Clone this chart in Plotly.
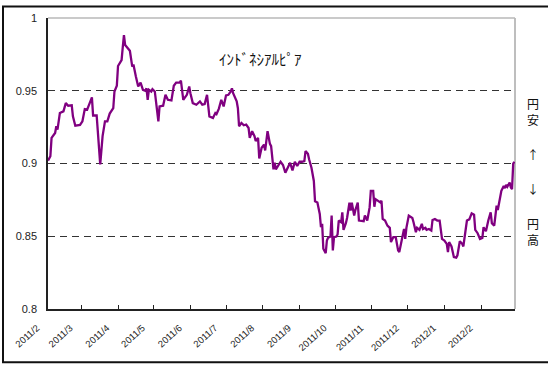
import plotly.graph_objects as go

dates = [
"2011-02-01","2011-02-03","2011-02-04","2011-02-07","2011-02-08","2011-02-09","2011-02-11","2011-02-14","2011-02-16","2011-02-18",
"2011-02-21","2011-02-22","2011-02-24","2011-02-28","2011-03-02","2011-03-04","2011-03-06","2011-03-08","2011-03-10","2011-03-11",
"2011-03-14","2011-03-17","2011-03-19","2011-03-21","2011-03-23","2011-03-25","2011-03-28","2011-03-29","2011-03-31","2011-04-01",
"2011-04-04","2011-04-05","2011-04-06","2011-04-07","2011-04-09","2011-04-11","2011-04-13","2011-04-14","2011-04-16","2011-04-18",
"2011-04-20","2011-04-22","2011-04-24","2011-04-25","2011-04-26","2011-04-27","2011-04-29","2011-04-30","2011-05-02","2011-05-05",
"2011-05-06","2011-05-09","2011-05-11","2011-05-13","2011-05-16","2011-05-18","2011-05-20","2011-05-23","2011-05-24","2011-05-26",
"2011-05-29","2011-05-31","2011-06-01","2011-06-03","2011-06-06","2011-06-09","2011-06-11","2011-06-13","2011-06-15","2011-06-17",
"2011-06-20","2011-06-22","2011-06-23","2011-06-25","2011-06-27","2011-06-29","2011-07-01","2011-07-03","2011-07-05","2011-07-06",
"2011-07-07","2011-07-10","2011-07-11","2011-07-12","2011-07-14","2011-07-16","2011-07-18","2011-07-20","2011-07-21","2011-07-23",
"2011-07-25","2011-07-26","2011-07-28","2011-07-29","2011-07-31","2011-08-02","2011-08-03","2011-08-05","2011-08-07","2011-08-08",
"2011-08-10","2011-08-11","2011-08-12","2011-08-14","2011-08-16","2011-08-18","2011-08-20","2011-08-22","2011-08-24","2011-08-26",
"2011-08-28","2011-08-30","2011-09-01","2011-09-03","2011-09-05","2011-09-06","2011-09-08","2011-09-09","2011-09-11","2011-09-13",
"2011-09-14","2011-09-16","2011-09-18","2011-09-19","2011-09-20","2011-09-21","2011-09-23","2011-09-24","2011-09-25","2011-09-27",
"2011-09-28","2011-09-29","2011-09-30","2011-10-02","2011-10-03","2011-10-04","2011-10-06","2011-10-07","2011-10-08","2011-10-10",
"2011-10-11","2011-10-13","2011-10-14","2011-10-15","2011-10-17","2011-10-18","2011-10-20","2011-10-21","2011-10-23","2011-10-25",
"2011-10-26","2011-10-28","2011-10-30","2011-10-31","2011-11-02","2011-11-03","2011-11-04","2011-11-06","2011-11-08","2011-11-09",
"2011-11-10","2011-11-12","2011-11-14","2011-11-16","2011-11-17","2011-11-19","2011-11-21","2011-11-23","2011-11-24","2011-11-26",
"2011-11-27","2011-11-28","2011-11-29","2011-11-30","2011-12-02","2011-12-05","2011-12-06","2011-12-08","2011-12-09","2011-12-11",
"2011-12-13","2011-12-14","2011-12-16","2011-12-17","2011-12-19","2011-12-21","2011-12-22","2011-12-24","2011-12-26","2011-12-28",
"2011-12-30","2012-01-01","2012-01-03","2012-01-04","2012-01-05","2012-01-07","2012-01-09","2012-01-11","2012-01-12","2012-01-14",
"2012-01-16","2012-01-17","2012-01-19","2012-01-20","2012-01-22","2012-01-24","2012-01-26","2012-01-27","2012-01-29","2012-01-31",
"2012-02-02","2012-02-03","2012-02-05","2012-02-06","2012-02-07","2012-02-09","2012-02-10","2012-02-12","2012-02-14","2012-02-15",
"2012-02-17","2012-02-18","2012-02-20","2012-02-21","2012-02-22","2012-02-23","2012-02-25","2012-02-26","2012-02-27","2012-02-28",
"2012-02-29"]

idr_values = [
0.902,0.905,0.9176,0.921,0.9256,0.9233,0.9347,0.9358,0.9415,0.9397,
0.940,0.9324,0.926,0.9265,0.929,0.9374,0.937,0.9415,0.9454,0.933,
0.933,0.8994,0.9188,0.929,0.929,0.9343,0.938,0.9495,0.9534,0.967,
0.9711,0.980,0.9882,0.9814,0.979,0.9775,0.9666,0.968,0.960,0.9529,
0.9556,0.9506,0.950,0.9517,0.9438,0.9506,0.9495,0.9511,0.9495,0.929,
0.9392,0.9397,0.9472,0.9438,0.9433,0.9534,0.9556,0.9556,0.957,0.9438,
0.9472,0.9529,0.9483,0.9415,0.9404,0.9427,0.9404,0.9408,0.9472,0.9324,
0.9313,0.9347,0.934,0.9377,0.9438,0.9392,0.9468,0.9472,0.9495,0.9517,
0.9483,0.9427,0.938,0.9256,0.9279,0.9263,0.9268,0.9244,0.9176,0.9222,
0.9188,0.9154,0.9176,0.9035,0.9108,0.913,0.909,0.9222,0.9135,0.9119,
0.896,0.9005,0.896,0.8983,0.9012,0.899,0.8937,0.8971,0.9005,0.8953,
0.9012,0.8983,0.9012,0.9012,0.9017,0.9085,0.9067,0.9029,0.8971,0.888,
0.874,0.8732,0.8653,0.8562,0.8585,0.8414,0.8384,0.8471,0.8489,0.8498,
0.8642,0.8403,0.8494,0.8498,0.8512,0.8608,0.8596,0.8664,0.8544,0.859,
0.8626,0.873,0.8676,0.873,0.8642,0.868,0.8732,0.8608,0.8604,0.8604,
0.8642,0.8608,0.8698,0.8812,0.8812,0.8703,0.8755,0.8744,0.8732,0.8744,
0.8619,0.8608,0.8573,0.8558,0.846,0.8494,0.8494,0.8403,0.8391,0.8471,
0.8505,0.855,0.8482,0.8558,0.8642,0.8626,0.8596,0.8528,0.8558,0.8544,
0.8585,0.855,0.8558,0.8544,0.855,0.8539,0.8612,0.8619,0.8608,0.8608,
0.8482,0.8471,0.8448,0.8391,0.846,0.843,0.8357,0.8353,0.8369,0.8466,
0.8448,0.843,0.855,0.8608,0.8616,0.8657,0.8648,0.8544,0.8521,0.8482,
0.8489,0.8562,0.8535,0.8585,0.8608,0.8664,0.859,0.8573,0.871,0.868,
0.8778,0.8812,0.8846,0.883,0.8853,0.884,0.8869,0.8835,0.8824,0.8999,
0.9012]

tick_dates = ["2011-02-01","2011-03-01","2011-04-01","2011-05-01","2011-06-01","2011-07-01",
              "2011-08-01","2011-09-01","2011-10-01","2011-11-01","2011-12-01","2012-01-01","2012-02-01"]
tick_labels = ["2011/2","2011/3","2011/4","2011/5","2011/6","2011/7",
               "2011/8","2011/9","2011/10","2011/11","2011/12","2012/1","2012/2"]
y_ticks = [0.8, 0.85, 0.9, 0.95, 1.0]
y_tick_labels = ["0.8", "0.85", "0.9", "0.95", "1"]

series_name = "ｲﾝﾄﾞﾈｼｱﾙﾋﾟｱ"
side_texts = ["円<br>安", "↑", "↓", "円<br>高"]
side_px = [110.5, 153, 188, 231]   # vertical pixel centres of the side note

W, H = 548, 368
ml, mr, mt, mb = 48, 33, 16, 59
pw = W - ml - mr
ph = H - mt - mb

fig = go.Figure()
fig.add_trace(go.Scatter(x=dates, y=idr_values, mode="lines",
                         line=dict(color="#800080", width=2.3), showlegend=False,
                         hoverinfo="skip"))

fig.update_layout(
    width=W, height=H,
    margin=dict(l=ml, r=mr, t=mt, b=mb),
    paper_bgcolor="white", plot_bgcolor="white",
    font=dict(family="Liberation Sans, Arial, sans-serif", color="#222"),
    xaxis=dict(type="date", range=["2011-02-01", "2012-02-29 12:00"],
               tickvals=tick_dates, ticktext=tick_labels, tickangle=-42,
               ticks="inside", ticklen=4, tickcolor="#222", tickwidth=1,
               showgrid=False, zeroline=False,
               showline=True, linecolor="#222", linewidth=1.5,
               tickfont=dict(size=9.5, color="#222", family="Liberation Sans, Arial"),
               ticklabelstandoff=8, ticklabelshift=-11),
    yaxis=dict(range=[0.8, 1.0], tickvals=y_ticks, ticktext=y_tick_labels,
               ticks="", showgrid=True, gridcolor="#333", gridwidth=1,
               griddash="7px,5px", zeroline=False,
               showline=True, linecolor="#222", linewidth=1.5,
               tickfont=dict(size=11, color="#222"), ticklabelstandoff=7),
)

# grey right and top plot-area edges
fig.add_shape(type="line", xref="paper", yref="paper", x0=1, x1=1, y0=0, y1=1,
              line=dict(color="#a8a8a8", width=1.5), layer="below")
fig.add_shape(type="line", xref="paper", yref="paper", x0=0, x1=1, y0=1, y1=1,
              line=dict(color="#b8b8b8", width=1.5), layer="below")

# outer chart border
fx0 = (3 - ml) / pw
fx1 = (W + 2 - ml) / pw
fy1 = 1 + (mt - 4.5) / ph
fy0 = -(362.5 - (H - mb)) / ph
fig.add_shape(type="rect", xref="paper", yref="paper", x0=fx0, x1=fx1, y0=fy0, y1=fy1,
              line=dict(color="#111", width=2), fillcolor="rgba(0,0,0,0)")

fig.add_annotation(text=series_name, xref="paper", yref="paper",
                   x=(260 - ml) / pw, y=1 - (57 - mt) / ph, showarrow=False,
                   yanchor="middle", xanchor="center",
                   font=dict(size=15, color="#111", family="Noto Sans CJK JP"))

for txt, py in zip(side_texts, side_px):
    fig.add_annotation(text=txt, xref="paper", yref="paper",
                       x=(533 - ml) / pw, y=1 - (py - mt) / ph, showarrow=False,
                       yanchor="middle", xanchor="center",
                       font=dict(size=12, color="#111", family="Noto Sans CJK JP"))

fig.write_html("out.html")
